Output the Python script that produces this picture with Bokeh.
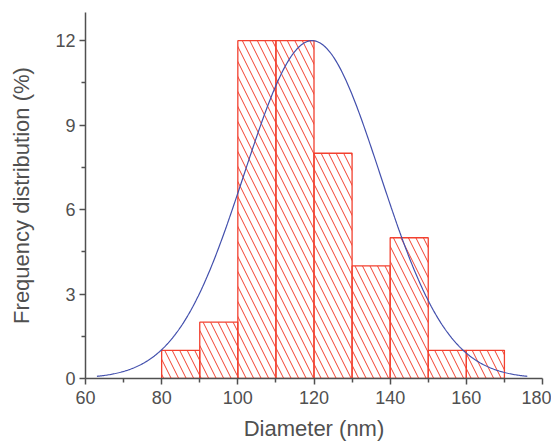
import numpy as np
from bokeh.plotting import figure
from bokeh.models import FixedTicker, Range1d
from bokeh.embed import file_html
from bokeh.resources import INLINE

# Histogram data (bin edges in nm, frequency in %)
bin_left = [80, 90, 100, 110, 120, 130, 140, 150, 160]
bin_right = [90, 100, 110, 120, 130, 140, 150, 160, 170]
frequency = [1, 2, 12, 12, 8, 4, 5, 1, 1]

# Gaussian fit parameters
fit_center = 119.5
fit_sigma = 17.8
fit_amplitude = 12.0
fit_xmin, fit_xmax = 63, 176

x_ticks = [60, 80, 100, 120, 140, 160, 180]
x_minor = [70, 90, 110, 130, 150, 170]
y_ticks = [0, 3, 6, 9, 12]
y_minor = [1.5, 4.5, 7.5, 10.5]

p = figure(width=551, height=443, output_backend="svg", toolbar_location=None,
           x_range=Range1d(60, 180), y_range=Range1d(0, 13),
           min_border_left=85, min_border_right=9, min_border_top=12, min_border_bottom=60)
p.outline_line_color = None
p.xgrid.visible = False
p.ygrid.visible = False

red = "#f2402f"
p.quad(left=bin_left, right=bin_right, bottom=0, top=frequency,
       fill_color="white", fill_alpha=0.0, line_color=red, line_width=1.3,
       hatch_pattern="\\", hatch_color=red, hatch_scale=15, hatch_weight=1)

xs = np.linspace(fit_xmin, fit_xmax, 400)
ys = fit_amplitude * np.exp(-(xs - fit_center) ** 2 / (2 * fit_sigma ** 2))
p.line(xs, ys, line_color="#4350ad", line_width=1.2)

gray = "#505050"
for ax in (p.xaxis[0], p.yaxis[0]):
    ax.axis_line_color = gray
    ax.axis_line_width = 1.5
    ax.major_tick_line_color = gray
    ax.minor_tick_line_color = gray
    ax.major_tick_line_width = 1.5
    ax.minor_tick_line_width = 1.5
    ax.major_tick_out = 6
    ax.major_tick_in = 0
    ax.minor_tick_out = 4
    ax.minor_tick_in = 0
    ax.major_label_text_font = "Liberation Sans"
    ax.major_label_text_font_size = "18px"
    ax.major_label_text_color = gray
    ax.axis_label_text_font = "Liberation Sans"
    ax.axis_label_text_font_size = "22px"
    ax.axis_label_text_font_style = "normal"
    ax.axis_label_text_color = gray

p.xaxis[0].ticker = FixedTicker(ticks=x_ticks, minor_ticks=x_minor)
p.yaxis[0].ticker = FixedTicker(ticks=y_ticks, minor_ticks=y_minor)
p.xaxis.axis_label = "Diameter (nm)"
p.yaxis.axis_label = "Frequency distribution (%)"
p.xaxis.axis_label_standoff = 9
p.yaxis.axis_label_standoff = 18
p.xaxis.major_label_standoff = 6
p.yaxis.major_label_standoff = 4

open("out.html", "w").write(file_html(p, INLINE))
